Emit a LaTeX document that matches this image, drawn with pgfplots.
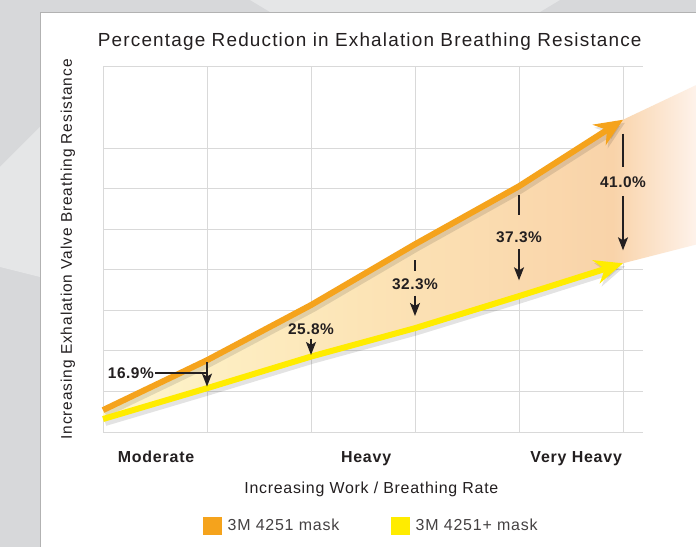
\documentclass[border=0pt]{standalone}
\usepackage{pgfplots}
\pgfplotsset{compat=1.18}
\usetikzlibrary{arrows.meta}
\usepackage{fontspec}
\setmainfont{Liberation Sans}

\definecolor{orangeC}{HTML}{F5A31C}
\definecolor{yellowC}{HTML}{FFEC00}
\definecolor{gridC}{HTML}{D9D9D9}
\definecolor{txt}{HTML}{231F20}
\definecolor{bgG}{HTML}{D7D8DA}
\definecolor{bgL}{HTML}{E5E6E7}
\definecolor{cA}{HTML}{FEF6CC}
\definecolor{cB}{HTML}{FCE4B6}
\definecolor{cC}{HTML}{F9D3A9}
\definecolor{cD}{HTML}{FEF2EA}

\pgfdeclarehorizontalshading{bandshade}{100bp}{color(0bp)=(cA); color(25bp)=(cA); color(47bp)=(cB); color(68bp)=(cC); color(75bp)=(cD); color(100bp)=(cD)}

\pgfplotstableread{
x y
0 0.54
1 1.77
2 3.13
3 4.63
4 6.06
5 7.70
}\orangedata
\pgfplotstableread{
x y
0 0.32
1 1.08
2 1.86
3 2.56
4 3.35
5 4.16
}\yellowdata
% band between the two series, extended beyond the last point
\pgfplotstableread{
x y
0 0.54
1 1.77
2 3.13
3 4.63
4 6.06
5 7.70
5.7 8.55
5.7 4.62
5 4.16
4 3.35
3 2.56
2 1.86
1 1.08
0 0.32
}\banddata

\newcommand\pctfont{\bfseries\fontsize{15.5}{18}\selectfont\addfontfeatures{LetterSpace=3.4}}

\begin{document}
\begin{tikzpicture}
\useasboundingbox (0,0) rectangle (696bp,547bp);
% background
\fill[bgG] (0,0) rectangle (696bp,547bp);
\fill[bgL] (0,380bp) -- (40bp,420bp) -- (40bp,270bp) -- (0,280bp) -- cycle;
\fill[bgL] (250bp,547bp) -- (560bp,547bp) -- (540bp,535bp) -- (270bp,535bp) -- cycle;
\fill[white] (40bp,0) rectangle (696bp,534bp);
\draw[black!30, line width=1.5bp] (40.5bp,0) -- (40.5bp,534.5bp) -- (696bp,534.5bp);

\begin{axis}[
  at={(103bp,115bp)}, anchor=south west,
  scale only axis, width=540bp, height=365bp,
  xmin=0, xmax=5.1923, ymin=0, ymax=9,
  xtick={0,1,2,3,4,5}, ytick={0,1,2,3,4,5,6,7,9},
  xticklabels={}, yticklabels={},
  major tick length=0,
  grid=major, major grid style={gridC, line width=1bp},
  axis line style={draw=none},
  clip=false,
  extra x ticks={0.51,2.53,4.55},
  extra x tick labels={Moderate,Heavy,Very Heavy},
  extra x tick style={grid=none, major tick length=0,
    tick label style={anchor=base, yshift=-30bp, font=\bfseries\fontsize{16}{19}\selectfont\addfontfeatures{LetterSpace=5}, text=txt}},
  title={Percentage Reduction in Exhalation Breathing Resistance},
  title style={at={(axis description cs:0.494,1.052)}, anchor=center, font=\fontsize{19}{22}\selectfont\addfontfeatures{LetterSpace=6.2}, text=txt},
  xlabel={Increasing Work / Breathing Rate},
  xlabel style={at={(axis description cs:0.497,-0.156)}, anchor=center, font=\fontsize{16}{19}\selectfont\addfontfeatures{LetterSpace=4.5}, text=txt},
  ylabel={Increasing Exhalation Valve Breathing Resistance},
  ylabel style={at={(axis description cs:-0.0648,0.5)}, anchor=center, font=\fontsize{15.5}{18}\selectfont\addfontfeatures{LetterSpace=6}, text=txt},
  legend style={at={(axis description cs:0.497,-0.256)}, anchor=center, draw=none, fill=none,
    legend columns=2, font=\fontsize{16}{19}\selectfont\addfontfeatures{LetterSpace=5}, text=txt!85,
    /tikz/every odd column/.append style={column sep=4bp},
    /tikz/every even column/.append style={column sep=50bp}},
  legend cell align=left,
]
\addplot[draw=none, shade, shading=bandshade, forget plot] table {\banddata} -- cycle;

% shadows
\addplot[black, opacity=0.11, line width=8bp, xshift=2bp, yshift=-3bp, forget plot,
  -{Stealth[length=28bp,width=24bp,inset=9bp]}] table {\yellowdata};
\addplot[black, opacity=0.11, line width=8bp, xshift=2bp, yshift=-3bp, forget plot,
  -{Stealth[length=28bp,width=24bp,inset=9bp]}] table {\orangedata};

\addplot[yellowC, line width=6bp, forget plot,
  -{Stealth[length=28bp,width=24bp,inset=9bp]}] table {\yellowdata};
\addplot[orangeC, line width=6bp, forget plot,
  -{Stealth[length=28bp,width=24bp,inset=9bp]}] table {\orangedata};

\addlegendimage{legend image code/.code={\fill[orangeC] (0bp,-8.5bp) rectangle (18bp,8.5bp);}}
\addlegendentry{3M 4251 mask}
\addlegendimage{legend image code/.code={\fill[yellowC] (0bp,-8.5bp) rectangle (18bp,8.5bp);}}
\addlegendentry{3M 4251+ mask}

% annotations
\draw[txt, line width=1.6bp] (axis cs:0.5,1.45) -- (axis cs:1,1.45);
\draw[txt, line width=1.6bp, -{Stealth[length=13bp,width=10bp,inset=3bp]}] (axis cs:1,1.72) -- (axis cs:1,1.12);
\node[font=\pctfont, text=txt, inner sep=1bp, anchor=east] at (axis cs:0.5,1.45) {16.9\%};

\node[font=\pctfont, text=txt, inner sep=1bp] at (axis cs:2,2.53) {25.8\%};
\draw[txt, line width=1.6bp, -{Stealth[length=13bp,width=10bp,inset=3bp]}] (axis cs:2,2.30) -- (axis cs:2,1.90);

\draw[txt, line width=1.6bp] (axis cs:3,4.24) -- (axis cs:3,3.97);
\node[font=\pctfont, text=txt, inner sep=1bp] at (axis cs:3,3.65) {32.3\%};
\draw[txt, line width=1.6bp, -{Stealth[length=13bp,width=10bp,inset=3bp]}] (axis cs:3,3.36) -- (axis cs:3,2.86);

\draw[txt, line width=1.6bp] (axis cs:4,5.84) -- (axis cs:4,5.34);
\node[font=\pctfont, text=txt, inner sep=1bp] at (axis cs:4,4.80) {37.3\%};
\draw[txt, line width=1.6bp, -{Stealth[length=13bp,width=10bp,inset=3bp]}] (axis cs:4,4.50) -- (axis cs:4,3.74);

\draw[txt, line width=1.6bp] (axis cs:5,7.36) -- (axis cs:5,6.53);
\node[font=\pctfont, text=txt, inner sep=1bp] at (axis cs:5,6.16) {41.0\%};
\draw[txt, line width=1.6bp, -{Stealth[length=13bp,width=10bp,inset=3bp]}] (axis cs:5,5.82) -- (axis cs:5,4.48);
\end{axis}
\end{tikzpicture}
\end{document}
